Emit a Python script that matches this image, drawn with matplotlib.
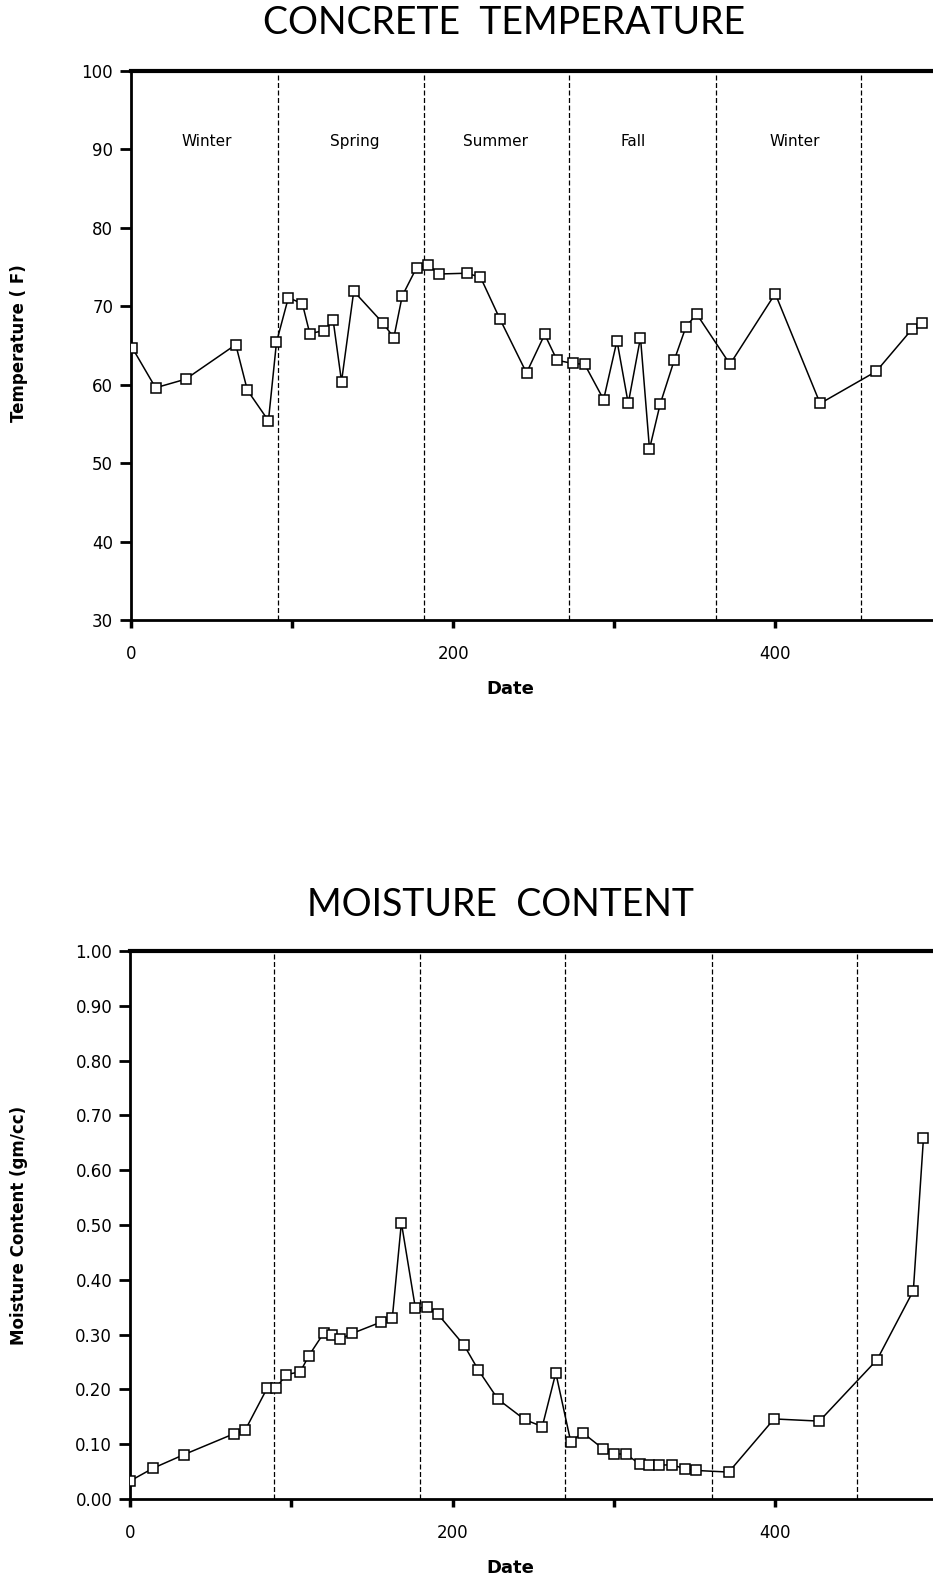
import matplotlib
matplotlib.use("Agg")
import matplotlib.pyplot as plt
from matplotlib.ticker import FormatStrFormatter

# ============================
# Data
# ============================
temp_day = [0.6, 15.1, 33.8, 64.9, 72.1, 85.2, 90.2, 97.6, 106.3, 110.9,
            119.8, 125.4, 130.6, 138.2, 156.1, 163.1, 168.3, 177.2, 184.5, 191.3,
            208.3, 216.9, 228.9, 245.5, 256.8, 264.5, 274.4, 281.6, 293.4, 301.7,
            308.7, 316.3, 321.9, 328.5, 337.4, 344.6, 351.2, 371.9, 400.0, 427.9,
            462.8, 485.1, 491.3]
temp_f = [64.7, 59.6, 60.7, 65.1, 59.3, 55.4, 65.4, 71.1, 70.3, 66.5,
          66.9, 68.2, 60.4, 71.9, 67.9, 66.0, 71.3, 74.9, 75.2, 74.1,
          74.2, 73.7, 68.4, 61.5, 66.4, 63.1, 62.7, 62.6, 58.1, 65.6,
          57.6, 66.0, 51.8, 57.5, 63.2, 67.4, 69.0, 62.6, 71.6, 57.6,
          61.7, 67.1, 67.9]

moist_day = [0.0, 14.1, 33.4, 64.4, 71.2, 85.1, 90.3, 96.8, 105.5, 110.7,
             120.1, 125.1, 129.9, 137.7, 155.8, 162.6, 168.2, 176.9, 183.8, 190.9,
             207.2, 216.0, 228.1, 244.6, 255.6, 264.0, 273.3, 280.6, 293.1, 300.4,
             307.3, 316.0, 321.9, 327.9, 336.3, 344.2, 350.8, 371.3, 399.4, 427.5,
             463.3, 485.8, 492.1]
moist = [0.033, 0.056, 0.081, 0.119, 0.125, 0.203, 0.202, 0.227, 0.232, 0.261,
         0.303, 0.300, 0.291, 0.302, 0.323, 0.331, 0.504, 0.348, 0.350, 0.337,
         0.280, 0.235, 0.182, 0.145, 0.132, 0.230, 0.104, 0.121, 0.092, 0.082,
         0.082, 0.064, 0.062, 0.062, 0.062, 0.055, 0.052, 0.049, 0.146, 0.142,
         0.254, 0.380, 0.659]

temp_bounds = [91, 182, 272, 363, 453]
moist_bounds = [89, 180, 270, 361, 451]
season_names = ["Winter", "Spring", "Summer", "Fall", "Winter"]
season_x = [47, 139, 226, 312, 412]
season_y = 91

temp_yticks = [30, 40, 50, 60, 70, 80, 90, 100]
moist_yticks = [0.0, 0.1, 0.2, 0.3, 0.4, 0.5, 0.6, 0.7, 0.8, 0.9, 1.0]
x_major = [0, 200, 400]
x_minor = [100, 300]

plt.rcParams["font.family"] = ["DejaVu Sans"]
TITLE_FONT = ["Lato", "DejaVu Sans"]


def style_axes(ax, ymin, ymax, yticks, fmt):
    ax.set_xlim(0, 498)
    ax.set_ylim(ymin, ymax)
    ax.set_yticks(yticks)
    ax.yaxis.set_major_formatter(FormatStrFormatter(fmt))
    ax.set_xticks(x_major)
    ax.set_xticks(x_minor, minor=True)
    ax.spines["right"].set_visible(False)
    ax.spines["top"].set_linewidth(3)
    ax.spines["left"].set_linewidth(2)
    ax.spines["bottom"].set_linewidth(2)
    ax.tick_params(axis="y", direction="out", length=8, width=2, pad=5, labelsize=12)
    ax.tick_params(axis="x", which="both", direction="out", length=6, width=2.5, pad=12, labelsize=12)


def plot_series(ax, x, y, bounds):
    for b in bounds:
        ax.axvline(b, color="black", lw=0.9, ls=(0, (4, 2)), zorder=1)
    ax.plot(x, y, color="black", lw=1.1, marker="s", ms=7, mfc="white",
            mec="black", mew=1.1, zorder=3)


fig = plt.figure(figsize=(9.33, 15.83), dpi=100)

# ---- concrete temperature ----
ax1 = fig.add_axes([0.1407, 0.6083, 0.8593, 0.3470])
plot_series(ax1, temp_day, temp_f, temp_bounds)
style_axes(ax1, 30, 100, temp_yticks, "%d")
for name, sx in zip(season_names, season_x):
    ax1.text(sx, season_y, name, ha="center", va="center", fontsize=11)

fig.text(0.540, 0.9855, "CONCRETE  TEMPERATURE", ha="center", va="center",
         fontsize=27, family=TITLE_FONT)
fig.text(0.547, 0.5645, "Date", ha="center", va="center", fontsize=13, fontweight="bold")
fig.text(0.020, 0.783, "Temperature ( F)", ha="center", va="center", rotation=90,
         fontsize=12, fontweight="bold")

# ---- moisture content ----
ax2 = fig.add_axes([0.1396, 0.0531, 0.8604, 0.3462])
plot_series(ax2, moist_day, moist, moist_bounds)
style_axes(ax2, 0.0, 1.0, moist_yticks, "%.2f")

fig.text(0.536, 0.4280, "MOISTURE  CONTENT", ha="center", va="center",
         fontsize=27, family=TITLE_FONT)
fig.text(0.547, 0.0095, "Date", ha="center", va="center", fontsize=13, fontweight="bold")
fig.text(0.020, 0.226, "Moisture Content (gm/cc)", ha="center", va="center", rotation=90,
         fontsize=12, fontweight="bold")

fig.savefig("out.png", dpi=100, facecolor="white")
